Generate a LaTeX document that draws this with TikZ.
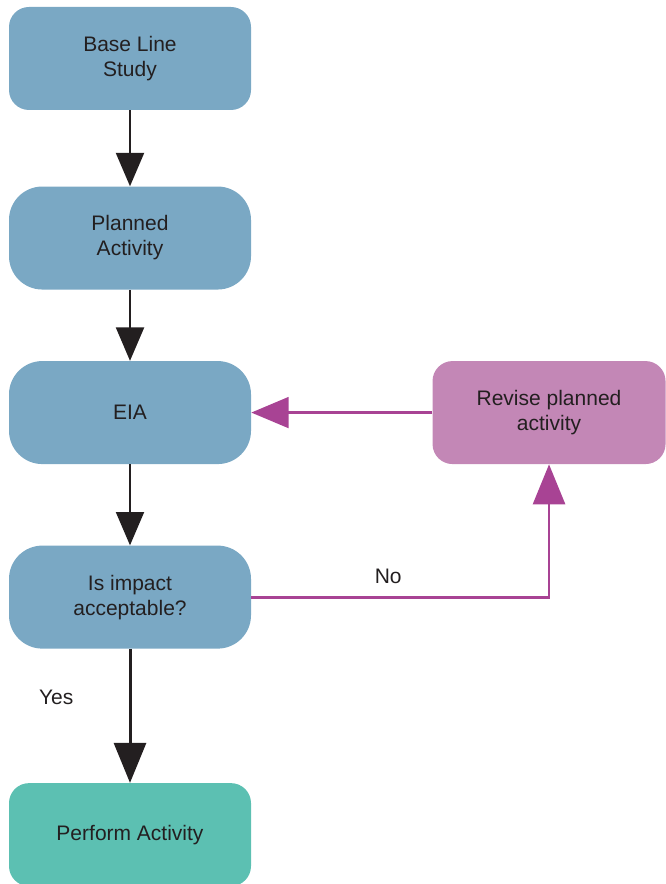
\documentclass[tikz,border=0pt]{standalone}
\usepackage{fontspec}
\setmainfont{Liberation Sans}
\usepackage{tikz}
\usetikzlibrary{positioning,arrows.meta}
\definecolor{boxblue}{RGB}{122,168,196}
\definecolor{revpurple}{RGB}{195,135,182}
\definecolor{linepurple}{RGB}{168,67,148}
\definecolor{doteal}{RGB}{92,192,178}
\definecolor{inkblack}{RGB}{35,31,32}

\begin{document}
\begin{tikzpicture}[x=0.75pt,y=-0.75pt,font=\fontsize{15.75}{18.75}\selectfont,
  box/.style={rounded corners=15pt,minimum width=181.5pt,minimum height=77.25pt,fill=boxblue,align=center,text=inkblack,inner sep=0pt},
  flow/.style={draw=inkblack,line width=1.5pt,-{Triangle[length=25pt,width=21pt]}},
  back/.style={draw=linepurple,line width=2.1pt,-{Triangle[length=28pt,width=23pt]}}]
\useasboundingbox (0,0) rectangle (665,884);
\node[box] (bls) at (130,58.5) {Base Line\\Study};
\node[box,rounded corners=25pt,below=57pt of bls] (pa) {Planned\\Activity};
\node[box,rounded corners=25pt,below=53.25pt of pa] (eia) {EIA};
\node[box,rounded corners=25pt,below=60.75pt of eia] (isa) {Is impact\\acceptable?};
\node[box,fill=doteal,below=100.5pt of isa] (perf) {Perform Activity};
\node[box,fill=revpurple,minimum width=174.75pt,right=135.75pt of eia] (rev) {Revise planned\\activity};
\coordinate (turn) at (isa.east -| rev.south);
\draw[flow] (bls) -- (pa);
\draw[flow] (pa) -- (eia);
\draw[flow] (eia) -- (isa);
\draw[flow,line width=2.25pt,-{Triangle[length=30pt,width=24pt]}] (isa) -- node[pos=0.36,left=38pt,text=inkblack]{Yes} (perf);
\draw[back] (rev) -- (eia);
\draw[back,-{Triangle[length=30pt,width=24pt]}] (isa.east) -- node[pos=0.46,above=6pt,text=inkblack]{No} (turn) -- (rev.south);
\end{tikzpicture}
\end{document}
